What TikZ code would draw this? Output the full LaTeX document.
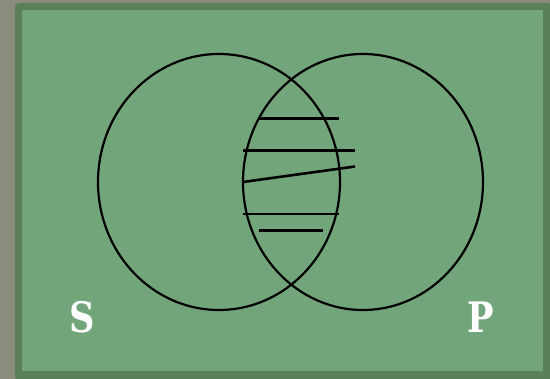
\documentclass[tikz,border=0pt]{standalone}
\usepackage{fontspec}
\newfontfamily\labfont{DejaVu Serif}
\definecolor{outergray}{HTML}{8A8C7D}
\definecolor{framegreen}{HTML}{5B7F59}
\definecolor{fieldgreen}{HTML}{72A57A}
\newcommand{\setname}[1]{\scalebox{0.84}[1]{\labfont\bfseries\fontsize{42}{42}\selectfont #1}}
\tikzset{
  venn/.style={draw=black, line width=2.2pt},
  hatch/.style={draw=black, line width=2.6pt},
  setlabel/.style={text=white, inner sep=0pt}
}
\begin{document}
\begin{tikzpicture}[x=1pt, y=-1pt]
\useasboundingbox (0,0) rectangle (550,379);
\fill[outergray] (0,0) rectangle (550,379);
\fill[framegreen, rounded corners=4pt] (15,3) rectangle (552,381);
\fill[fieldgreen] (22,10) rectangle (543,371);
% circles
\draw[venn] (219,182) ellipse [x radius=121, y radius=128];
\draw[venn] (363,182) ellipse [x radius=120, y radius=128];
% hatch lines
\coordinate (h1a) at (259,118.7); \coordinate (h1b) at (339,118.7);
\coordinate (h2a) at (243,150.7); \coordinate (h2b) at (355,150.7);
\coordinate (h3a) at (243,182);   \coordinate (h3b) at (355,166.5);
\coordinate (h4a) at (243,214);   \coordinate (h4b) at (339,214);
\coordinate (h5a) at (259,230.3); \coordinate (h5b) at (323,230.3);
\draw[hatch] (h1a) -- (h1b);
\draw[hatch] (h2a) -- (h2b);
\draw[hatch] (h3a) -- (h3b);
\draw[hatch] (h4a) -- (h4b);
\draw[hatch] (h5a) -- (h5b);
% labels
\node[setlabel] (S) at (82,317) {\setname{S}};
\node[setlabel] (P) at (481,317) {\setname{P}};
\end{tikzpicture}
\end{document}
